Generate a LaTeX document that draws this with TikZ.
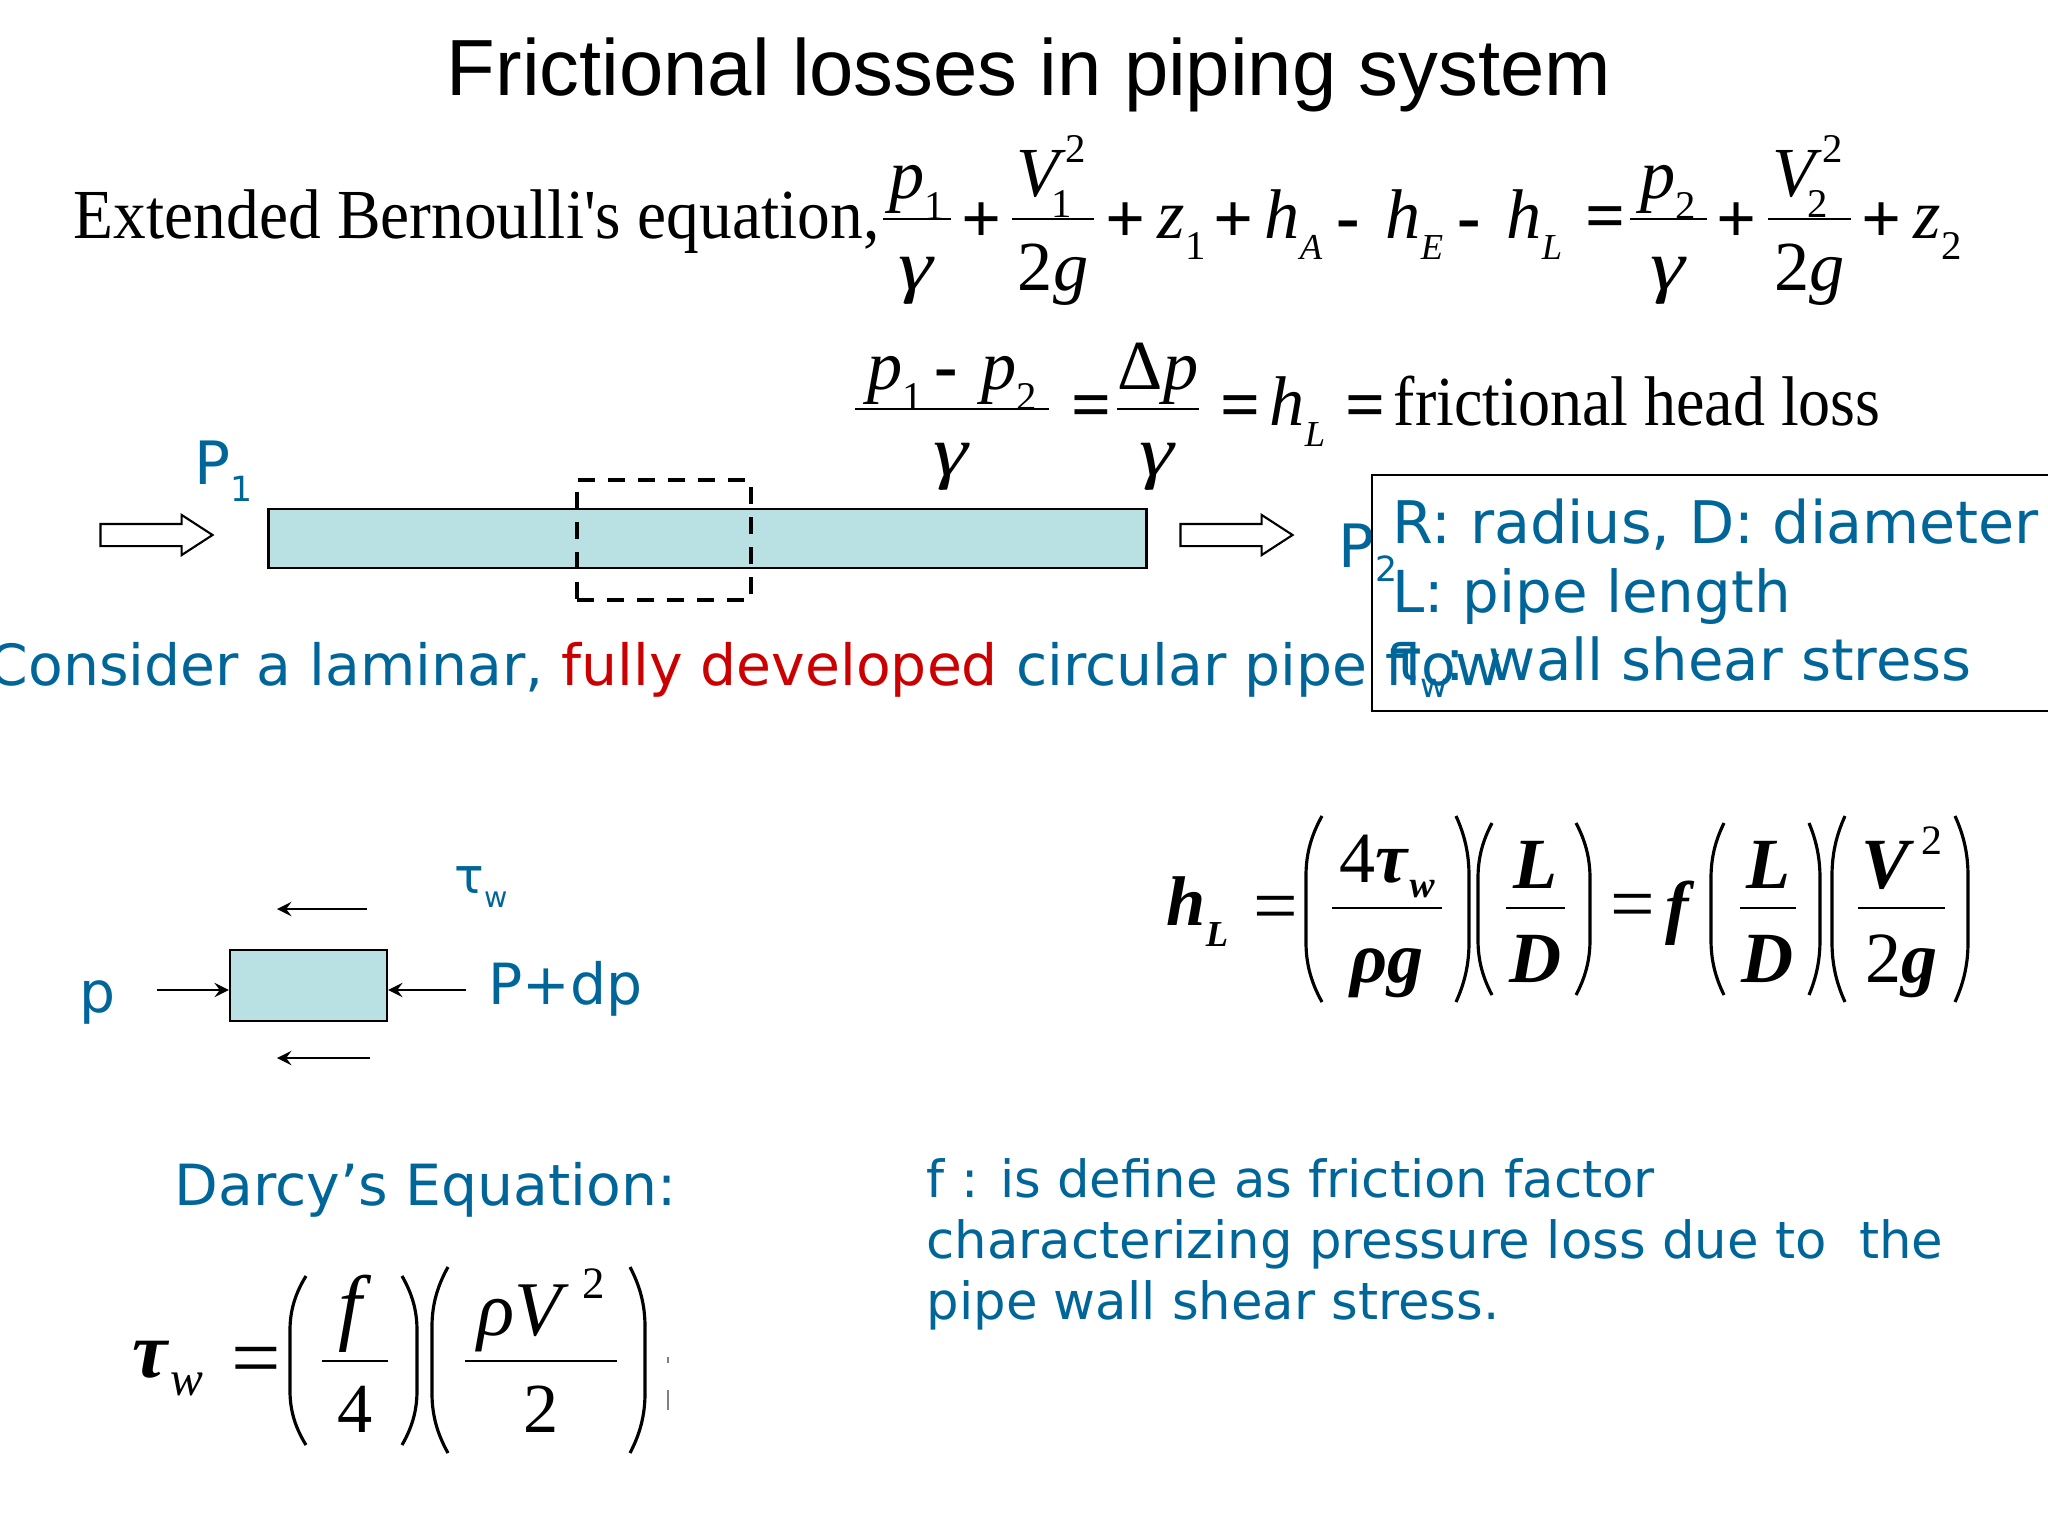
\documentclass[tikz,border=0pt]{standalone}
\usepackage{fontspec}
\usepackage{xcolor}
\usepackage{graphicx}
\usetikzlibrary{shapes.arrows}
\setmainfont{Liberation Serif}
\newfontfamily\plainfont{Liberation Serif}
\newfontfamily\titlefont{Liberation Sans}
\newfontfamily\labelfont{DejaVu Sans}
\definecolor{tblue}{HTML}{00669A}
\definecolor{tred}{HTML}{CC0000}
\definecolor{pipecol}{HTML}{B9E0E2}
\newcommand{\lo}[1]{\raisebox{-.3em}{\scalebox{.58}{#1}}}
\newcommand{\loi}[1]{\raisebox{-.3em}{\scalebox{.52}{\textit{#1}}}}
\newcommand{\hi}[1]{\raisebox{.47em}{\scalebox{.58}{#1}}}
\newcommand{\eqbf}[1]{{\bfseries\itshape #1}}
\newcommand{\eqbig}[1]{{\fontsize{20.5}{24}\selectfont #1}}
\newcommand{\gam}{\scalebox{1.25}[1]{\textit{γ}}}
% bar with a numerator and a denominator
\newcommand{\eqfrac}[8]{
\node[eq] (#1n) at ({(#2+#3)/2},#5) {#7};
\node[eq] (#1d) at ({(#2+#3)/2},#6) {#8};
\draw[line width=.7pt] (#2,#4) -- (#3,#4);
}
% round bracket between two x and two y
\newcommand{\bracket}[4]{
\draw[line width=.9pt] (#2,#3) .. controls ({#1+(#2-#1)*.35},{#3+(#4-#3)*.1}) and (#1,{#3+(#4-#3)*.2}) .. (#1,{#3+(#4-#3)*.32}) -- (#1,{#3+(#4-#3)*.68}) .. controls (#1,{#3+(#4-#3)*.8}) and ({#1+(#2-#1)*.35},{#3+(#4-#3)*.9}) .. (#2,#4);
}
\tikzset{
eq/.style={anchor=base,inner sep=0pt,font=\fontsize{20}{24}\selectfont},
eqb/.style={anchor=base,inner sep=0pt,font=\fontsize{22.5}{26}\selectfont},
sym/.style={anchor=center,inner sep=0pt,font=\fontsize{20}{24}\selectfont\bfseries},
lbl/.style={anchor=base west,inner sep=0pt,text=tblue,font=\labelfont\fontsize{16.15}{20}\selectfont},
boxlbl/.style={anchor=base west,inner sep=0pt,text=tblue,font=\labelfont\fontsize{16.7}{20}\selectfont},
small/.style={anchor=base west,inner sep=0pt,text=tblue,font=\labelfont\fontsize{14.58}{18}\selectfont},
flow/.style={draw,single arrow,inner sep=0pt,minimum height=1.12cm,single arrow head extend=.09cm,single arrow tip angle=66,line width=.6pt,fill=white},
force/.style={->,>=stealth,line width=.8pt},
}
\begin{document}
\begin{tikzpicture}[x=.01cm,y=-.01cm]
\clip (0,0) rectangle (2048,1536);
\node[anchor=base,inner sep=0pt,font=\titlefont\fontsize{22.65}{26}\selectfont] (title) at (1029,95) {Frictional losses in piping system};
\node[eq,anchor=base west] (bern) at (73,238) {\scalebox{.93}[1]{\plainfont Extended Bernoulli's equation,}};
\eqfrac{pa}{883}{951}{219}{198}{289}{\textit{p}\lo{1}}{\gam}
\node[sym] (plusa) at (982,223) {+};
\eqfrac{va}{1012}{1094}{219}{196}{290}{\textit{V}\hi{2}\kern-.5em\lo{1}\kern.26em}{2\textit{g}}
\node[sym] (plusb) at (1126,223) {+};
\node[eq,anchor=base west] (za) at (1157,238) {\textit{z}\lo{1}};
\node[sym] (plusc) at (1234,223) {+};
\node[eq,anchor=base west] (ha) at (1264,238) {\textit{h}\loi{A}};
\node[sym] (mina) at (1348,231) {-};
\node[eq,anchor=base west] (he) at (1385,238) {\textit{h}\loi{E}};
\node[sym] (minb) at (1469,231) {-};
\node[eq,anchor=base west] (hl) at (1506,238) {\textit{h}\loi{L}};
\node[sym] (eqa) at (1606,223) {=};
\eqfrac{pb}{1630}{1707}{219}{198}{289}{\textit{p}\lo{2}}{\gam}
\node[sym] (plusd) at (1737,223) {+};
\eqfrac{vb}{1768}{1851}{219}{196}{290}{\textit{V}\hi{2}\kern-.5em\lo{2}\kern.26em}{2\textit{g}}
\node[sym] (pluse) at (1882,223) {+};
\node[eq,anchor=base west] (zb) at (1913,238) {\textit{z}\lo{2}};
\eqfrac{dp}{855}{1049}{409}{389}{475}{\textit{p}\lo{1}\,\textbf{-}\,\,\textit{p}\lo{2}}{\gam}
\node[sym] (eqb) at (1092,412) {=};
\eqfrac{dq}{1117}{1199}{409}{389}{475}{Δ\textit{p}}{\gam}
\node[sym] (eqc) at (1241,412) {=};
\node[eq,anchor=base west] (hlb) at (1269,425) {\textit{h}\loi{L}};
\node[sym] (eqd) at (1366,412) {=};
\node[eq,anchor=base west] (fhl) at (1393,425) {\scalebox{.91}[1]{frictional head loss}};
\node[anchor=base west,inner sep=0pt,text=tblue,font=\labelfont\fontsize{17}{20}\selectfont] (pone) at (194,484) {P\lo{1}};
\node[draw,fill=pipecol,inner sep=0pt,line width=.8pt,minimum width=8.78cm,minimum height=.59cm] (pipe) at (707.5,538.5) {};
\node[draw,inner sep=0pt,line width=1.1pt,dash pattern=on .17cm off .13cm,minimum width=1.74cm,minimum height=1.2cm] (cv) at (664,540) {};
\node[flow] (inflow) at (148,535) {\rule{0pt}{.2cm}};
\node[flow] (outflow) at (1228,535) {\rule{0pt}{.2cm}};
\node[anchor=base west,inner sep=0pt,text=tblue,font=\labelfont\fontsize{17}{20}\selectfont] (ptwo) at (1338,567) {P\kern.02em\raisebox{.05em}{\lo{2}}};
\node[lbl] (cons) at (-12,685) {Consider a laminar, {\color{tred}fully developed} circular pipe flow};
\draw[line width=.8pt] (2048,475) -- (1372,475) -- (1372,711) -- (2048,711);
\node[boxlbl] (rad) at (1392,543) {R: radius, D: diameter};
\node[boxlbl,font=\labelfont\fontsize{16.45}{20}\selectfont] (len) at (1392,612) {L: pipe length};
\node[lbl,font=\labelfont\fontsize{16.4}{20}\selectfont] (wall) at (1388,680) {τ\kern-.05em\lo{w}\kern-.05em: wall shear stress};
\node[anchor=base west,inner sep=0pt,text=tblue,font=\labelfont\fontsize{14}{16}\selectfont] (tau) at (454,893) {τ\lo{w}};
\node[draw,fill=pipecol,inner sep=0pt,line width=.6pt,minimum width=1.57cm,minimum height=.71cm] (elem) at (308.5,985.5) {};
\coordinate (pin) at (157,990);
\coordinate (pout) at (466,990);
\coordinate (tsa) at (367,909);
\coordinate (tea) at (277,909);
\coordinate (tsb) at (370,1058);
\coordinate (teb) at (277,1058);
\draw[force] (pin) -- (pin -| elem.west);
\draw[force] (pout) -- (pout -| elem.east);
\draw[force] (tsa) -- (tea);
\draw[force] (tsb) -- (teb);
\node[lbl] (pl) at (79,1012) {p};
\node[lbl] (pr) at (488,1004) {P+dp};
\node[eqb,anchor=base west,font=\fontsize{20}{24}\selectfont] (hlc) at (1166,925) {\eqbf{h\loi{L}}};
\node[sym,font=\fontsize{22.5}{26}\selectfont] (eqe) at (1276,914) {=};
\bracket{1306}{1322}{816}{1002}
\eqfrac{fa}{1332}{1442}{908}{882}{982}{\eqbig{4\eqbf{τ}\kern.03em\raisebox{.08em}{\eqbf{\loi{w}}}}}{\eqbig{\eqbf{ρg}}}
\bracket{1469}{1456}{816}{1002}
\bracket{1478}{1492}{823}{995}
\eqfrac{fb}{1506}{1565}{908}{888}{982}{\eqbig{\eqbf{L}}}{\eqbig{\eqbf{D}}}
\bracket{1590}{1576}{823}{995}
\node[sym,font=\fontsize{22.5}{26}\selectfont] (eqf) at (1633,912) {=};
\node[eqb,anchor=base west,font=\fontsize{20}{24}\selectfont] (ff) at (1665,930) {\eqbf{f}};
\bracket{1711}{1724}{823}{995}
\eqfrac{fc}{1740}{1796}{908}{888}{982}{\eqbig{\eqbf{L}}}{\eqbig{\eqbf{D}}}
\bracket{1820}{1809}{823}{995}
\bracket{1832}{1845}{816}{1002}
\eqfrac{fd}{1858}{1945}{908}{888}{982}{\eqbig{\eqbf{V}\,\hi{2}}}{\eqbig{2\eqbf{g}}}
\bracket{1968}{1955}{816}{1002}
\node[lbl] (darcy) at (174,1205) {Darcy’s Equation:};
\node[small] (defa) at (926,1197) {f : is define as friction factor};
\node[small] (defb) at (926,1258) {characterizing pressure loss due to\ \ the};
\node[small] (defc) at (926,1319) {pipe wall shear stress.};
\node[eqb,anchor=base west] (tw) at (132,1377) {\eqbf{τ}};
\node[eq,anchor=base west] (tws) at (170,1395) {\scalebox{.7}{\itshape w}};
\node[sym,font=\fontsize{25}{28}\selectfont] (eqg) at (256,1367) {=};
\bracket{290}{306}{1276}{1445}
\eqfrac{ta}{322}{388}{1361}{1334}{1432}{\fontsize{24}{28}\selectfont\textit{f}}{4}
\bracket{417}{402}{1276}{1445}
\bracket{432}{448}{1267}{1453}
\eqfrac{tb}{465}{617}{1361}{1335}{1432}{\fontsize{22}{26}\selectfont\textit{ρV}\,\hi{2}}{2}
\bracket{645}{630}{1267}{1453}
\draw[gray,line width=.4pt] (668,1357) -- (668,1363);
\draw[gray,line width=.4pt] (668,1390) -- (668,1410);
\end{tikzpicture}
\end{document}
